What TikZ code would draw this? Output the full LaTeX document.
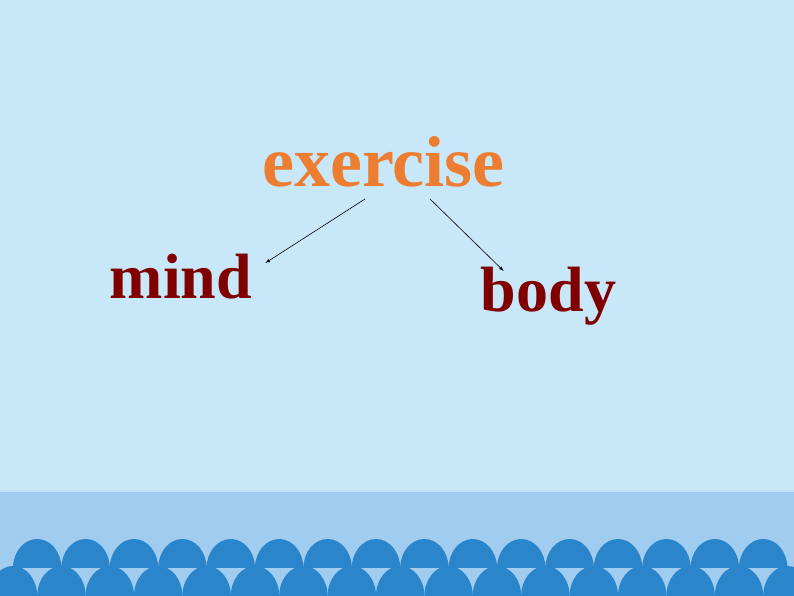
\documentclass[tikz,border=0pt]{standalone}
\usepackage{fontspec}
\setmainfont{Liberation Serif}
\usepackage{tikz}
\usetikzlibrary{calc,arrows}
\usepackage{xcolor}
\definecolor{skyblue}{RGB}{200,232,250}
\definecolor{bandblue}{RGB}{160,204,240}
\definecolor{rimblue}{RGB}{190,226,250}
\definecolor{domeblue}{RGB}{42,133,203}
\definecolor{exorange}{RGB}{237,125,49}
\definecolor{wordred}{RGB}{128,0,0}

\begin{document}
\begin{tikzpicture}[x=1pt,y=1pt,
        % define styles
        topword/.style={
             inner sep=0pt,
             anchor=base,
             text=exorange,
             font=\fontsize{72}{76}\selectfont\bfseries
        },
        subword/.style={
             inner sep=0pt,
             anchor=base,
             text=wordred,
             font=\fontsize{64}{68}\selectfont\bfseries
        },
        link/.style={
             -latex,
             line width=0.6pt,
             black
        },
        dome/.style={
             fill=domeblue
        }
    ]
        \useasboundingbox (0,0) rectangle (794,596);

        % background and bottom band
        \fill[skyblue] (0,0) rectangle (794,596);
        \fill[bandblue] (0,0) rectangle (794,104);
        \draw[rimblue,line width=1.5pt] (0,105) -- (794,105);

        % top row of domes
        \foreach \i in {0,...,15} {
            \fill[dome] ({37.2+48.4*\i-24.2},28) arc[start angle=180,end angle=0,x radius=24.2,y radius=29] -- cycle;
        }
        % bottom row of domes
        \foreach \i in {0,...,16} {
            \fill[dome] ({13+48.4*\i-24.2},0) arc[start angle=180,end angle=0,x radius=24.2,y radius=30] -- cycle;
        }

        % words
        \node[topword] at (383.5,409) (exercise) {exercise};
        \node[subword] at (181,297)   (mind) {mind};
        \node[subword] at (548.5,284) (body) {body};

        % links from exercise
        \draw[link] ($(exercise.base)+(-18.5,-12)$) -- ($(mind.base east)+(13,36)$);
        \draw[link] ($(exercise.base)+(46.5,-12)$) -- ($(body.base west)+(23,41)$);
    \end{tikzpicture}
\end{document}
